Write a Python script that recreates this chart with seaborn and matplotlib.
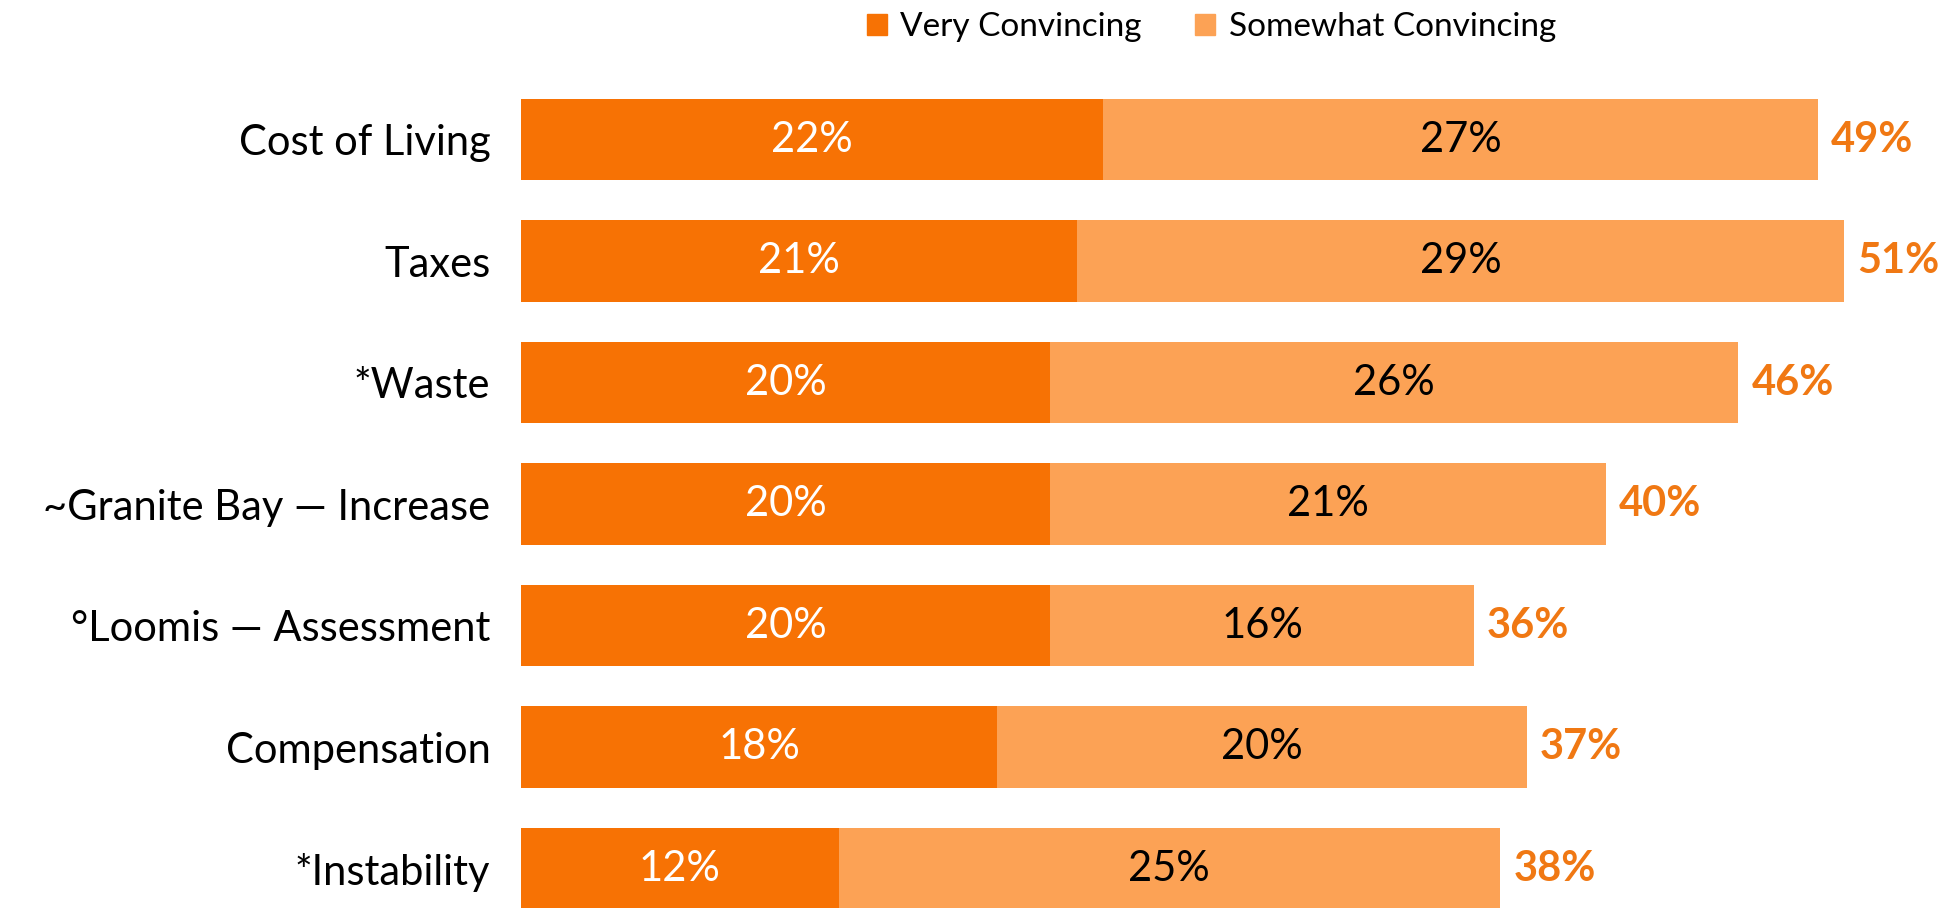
import seaborn as sns
import matplotlib.pyplot as plt
from matplotlib.patches import Patch
import pandas as pd

# data
categories = ["Cost of Living", "Taxes", "*Waste", "~Granite Bay \u2014 Increase",
              "\u00b0Loomis \u2014 Assessment", "Compensation", "*Instability"]
very = [22, 21, 20, 20, 20, 18, 12]
somewhat = [27, 29, 26, 21, 16, 20, 25]
total_labels = ["49%", "51%", "46%", "40%", "36%", "37%", "38%"]

dark = "#F77204"
light = "#FCA255"
total_color = "#F07813"

df = pd.DataFrame({"Category": categories, "Very": very, "Somewhat": somewhat})
df["Total"] = df["Very"] + df["Somewhat"]

sns.set_style("white")
plt.rcParams["font.family"] = ["Lato", "DejaVu Sans"]
plt.rcParams["text.color"] = "black"

fig = plt.figure(figsize=(19.54, 9.08), dpi=100)
ax = fig.add_axes([521 / 1954, 0, 1 - 521 / 1954, 1])

# stacked bars: full length in light, very convincing on top in dark
sns.barplot(data=df, x="Total", y="Category", color=light, width=0.67,
            saturation=1, linewidth=0, ax=ax)
sns.barplot(data=df, x="Very", y="Category", color=dark, width=0.67,
            saturation=1, linewidth=0, ax=ax)

for i, row in df.iterrows():
    ax.text(row["Very"] / 2, i, f"{row['Very']}%", ha="center", va="center",
            color="white", fontsize=30)
    ax.text(row["Very"] + row["Somewhat"] / 2, i, f"{row['Somewhat']}%",
            ha="center", va="center", color="black", fontsize=30)
    ax.text(row["Total"] + 0.5, i, total_labels[i], ha="left", va="center",
            color=total_color, fontsize=30, fontweight="bold")

ax.set_xlim(0, 54.15)
ax.set_ylim(6.324, -1.149)
ax.set_xlabel("")
ax.set_ylabel("")
ax.set_xticks([])
ax.tick_params(axis="y", length=0, pad=22, labelsize=30, labelcolor="black")
sns.despine(ax=ax, left=True, bottom=True)

handles = [Patch(color=dark), Patch(color=light)]
fig.legend(handles, ["Very Convincing", "Somewhat Convincing"], loc="upper center",
           bbox_to_anchor=(0.62, 1.02), ncol=2, frameon=False, fontsize=24,
           handlelength=0.6, handleheight=0.6, handletextpad=0.4, columnspacing=1.6,
           labelcolor="black")

plt.savefig("out.png", dpi=100)
plt.close()
